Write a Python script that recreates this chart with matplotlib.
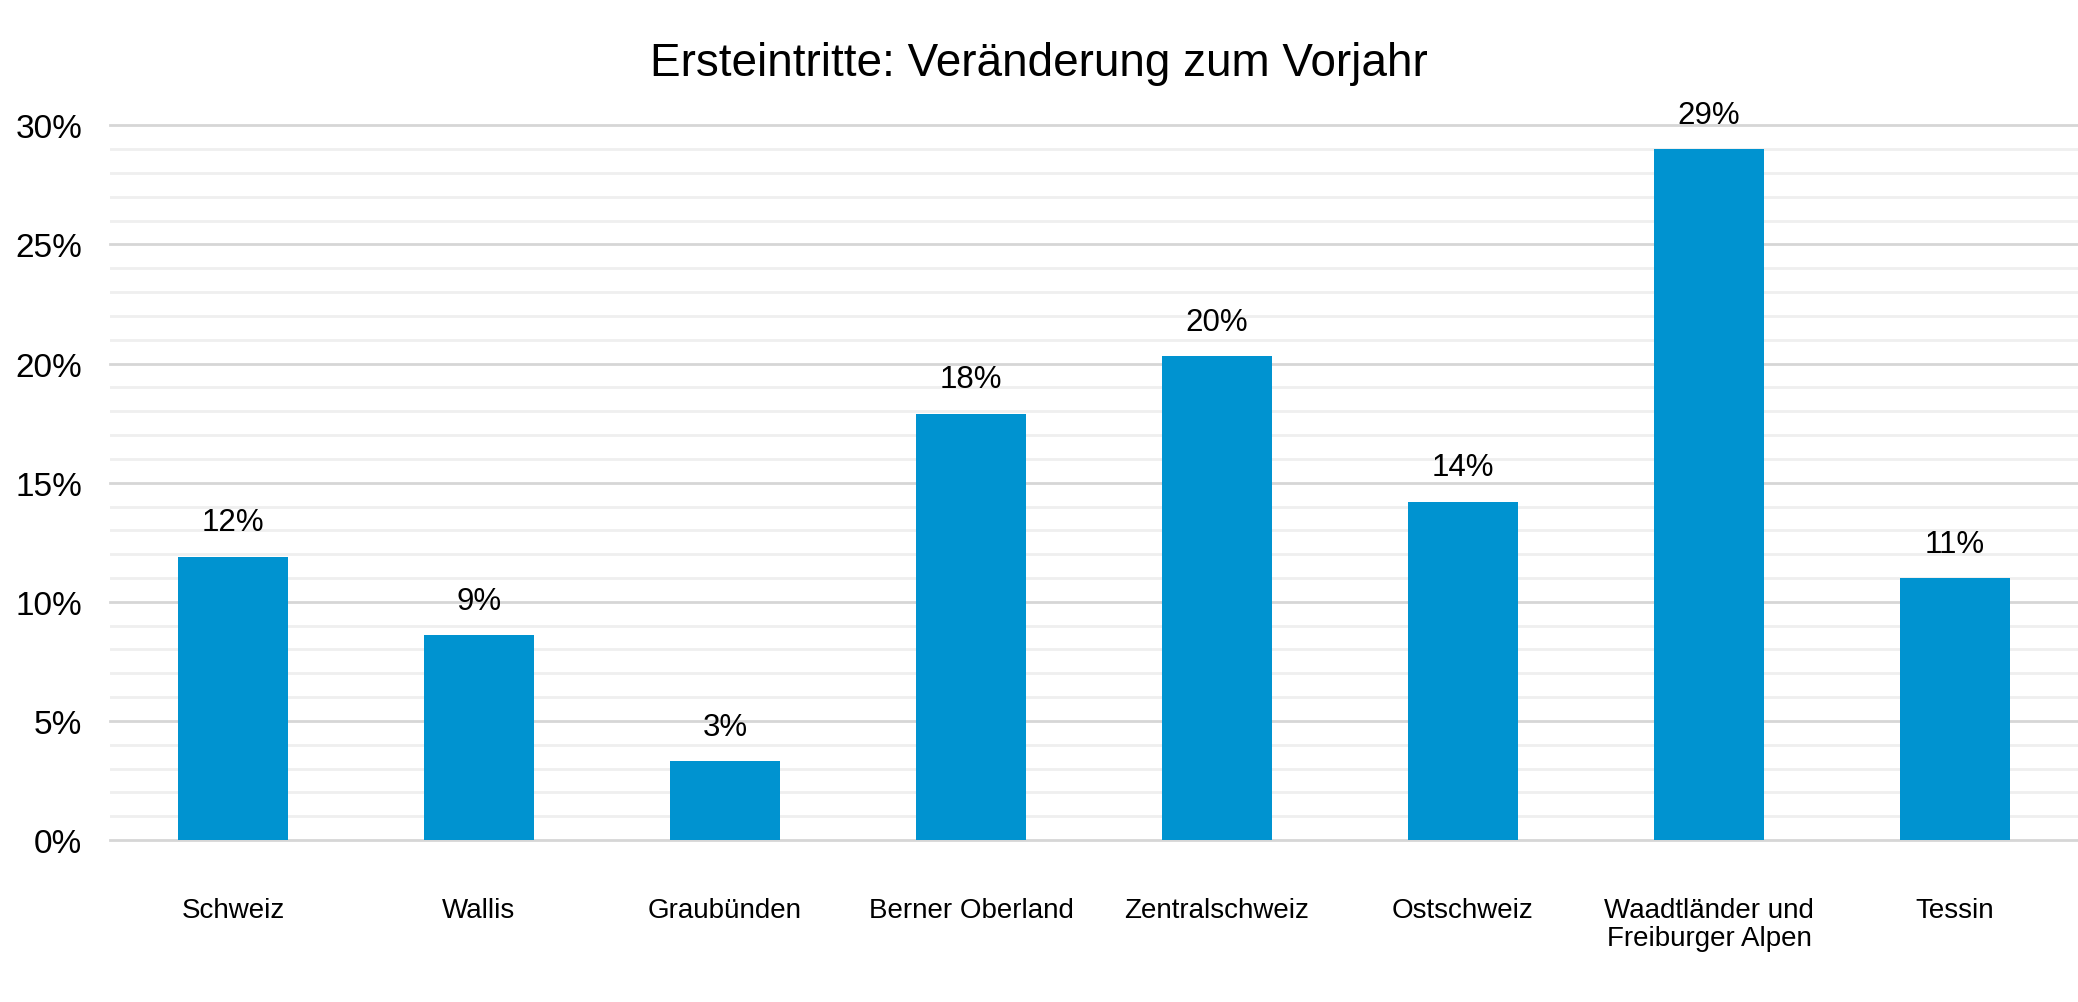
import numpy as np
import matplotlib
matplotlib.use('Agg')
import matplotlib.pyplot as plt
from matplotlib.ticker import MultipleLocator, FuncFormatter

matplotlib.rcParams['font.family'] = ['Liberation Sans', 'DejaVu Sans']

regions = ['Schweiz', 'Wallis', 'Graubünden', 'Berner Oberland', 'Zentralschweiz',
           'Ostschweiz', 'Waadtländer und\nFreiburger Alpen', 'Tessin']
change_pct = [11.9, 8.6, 3.3, 17.9, 20.3, 14.2, 29.0, 11.0]
title = 'Ersteintritte: Veränderung zum Vorjahr'

bar_color = '#0093d0'

fig = plt.figure(figsize=(20.78, 10.03), dpi=100)
ax = fig.add_axes([0.0529, 0.1615, 0.9471, 0.7125])

x = np.arange(len(regions))
ax.bar(x, change_pct, width=0.45, color=bar_color, zorder=3)

for xi, v in zip(x, change_pct):
    ax.annotate('%d%%' % round(v), (xi, v), xytext=(0, 19), textcoords='offset points',
                ha='center', va='baseline', fontsize=22.5, color='black')

ax.set_xlim(-0.5, len(regions) - 0.5)
ax.set_ylim(0, 30)
ax.yaxis.set_major_locator(MultipleLocator(5))
ax.yaxis.set_minor_locator(MultipleLocator(1))
ax.yaxis.set_major_formatter(FuncFormatter(lambda v, p: '%d%%' % round(v)))
ax.grid(axis='y', which='major', color='#d6d6d6', linewidth=2.0, zorder=0)
ax.grid(axis='y', which='minor', color='#efefef', linewidth=2.0, zorder=0)
ax.set_axisbelow(True)
# keep the 0% and 30% lines whole at the axes edges
for gl in ax.get_ygridlines():
    gl.set_clip_on(False)

ax.set_xticks(x)
ax.set_xticklabels(regions, fontsize=20, linespacing=1.1)
ax.tick_params(axis='x', length=0, pad=41)
ax.tick_params(axis='y', which='both', length=0, pad=20, labelsize=24)

for s in ax.spines.values():
    s.set_visible(False)

fig.text(0.5, 0.936, title, ha='center', va='center', fontsize=33)

plt.savefig('out.png', dpi=100)
plt.close()
